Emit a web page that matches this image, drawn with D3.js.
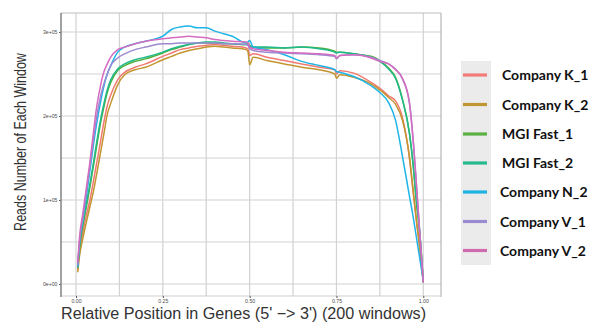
<!DOCTYPE html>
<html><head><meta charset="utf-8">
<script src="https://cdn.jsdelivr.net/npm/d3@7"></script>
<style>body{margin:0;background:#fff}svg{display:block}</style>
</head><body><svg id="c" width="592" height="322"></svg>
<script>
const seriesNames = ["Company K_1","Company K_2","MGI Fast_1","MGI Fast_2","Company N_2","Company V_1","Company V_2"];
const lineColors = ["#f07a72","#c2952f","#55b03a","#1fb98b","#1eb4e6","#9c89d2","#d46cc0"];
const positions = [0.005,0.01,0.02,0.03,0.04,0.05,0.06,0.07,0.08,0.09,0.1,0.12,0.14,0.17,0.2,0.25,0.275,0.3,0.325,0.35,0.375,0.4,0.425,0.45,0.49,0.495,0.5,0.51,0.55,0.6,0.65,0.7,0.745,0.75,0.76,0.8,0.85,0.875,0.9,0.92,0.94,0.96,0.97,0.98,0.99,1.0];
// values in units of 1e5 reads
const companyK1 = [0.17,0.38,0.62,0.82,1.0,1.22,1.45,1.68,1.92,2.12,2.25,2.43,2.52,2.58,2.62,2.71,2.75,2.79,2.81,2.83,2.84,2.85,2.84,2.83,2.81,2.80,2.72,2.74,2.70,2.66,2.62,2.58,2.55,2.50,2.54,2.51,2.40,2.33,2.24,2.18,1.98,1.50,1.12,0.75,0.42,0.02];
const companyK2 = [0.14,0.33,0.55,0.74,0.92,1.10,1.32,1.55,1.78,2.02,2.15,2.37,2.49,2.55,2.58,2.67,2.71,2.75,2.78,2.80,2.82,2.83,2.82,2.81,2.79,2.77,2.61,2.70,2.66,2.62,2.58,2.55,2.50,2.45,2.49,2.46,2.38,2.31,2.22,2.14,1.95,1.52,1.15,0.78,0.42,0.02];
const mgiFast1 = [0.19,0.42,0.70,0.92,1.15,1.40,1.65,1.90,2.10,2.28,2.40,2.54,2.60,2.65,2.68,2.75,2.79,2.82,2.85,2.87,2.87,2.87,2.86,2.86,2.85,2.86,2.84,2.82,2.81,2.81,2.82,2.81,2.77,2.76,2.76,2.74,2.71,2.66,2.57,2.46,2.20,1.80,1.45,0.98,0.60,0.02];
const mgiFast2 = [0.21,0.45,0.73,0.96,1.19,1.44,1.70,1.94,2.14,2.31,2.43,2.56,2.62,2.67,2.70,2.76,2.80,2.83,2.85,2.87,2.88,2.88,2.87,2.86,2.85,2.86,2.83,2.82,2.82,2.81,2.82,2.80,2.76,2.75,2.76,2.74,2.70,2.65,2.56,2.45,2.19,1.80,1.46,1.00,0.60,0.02];
const companyN2 = [0.20,0.48,0.78,1.05,1.35,1.65,1.92,2.15,2.35,2.50,2.60,2.76,2.82,2.86,2.89,2.95,3.03,3.06,3.07,3.05,3.05,3.01,2.98,2.95,2.87,2.88,2.90,2.82,2.79,2.73,2.65,2.60,2.55,2.53,2.52,2.47,2.36,2.28,2.16,1.95,1.52,1.05,0.82,0.56,0.30,0.04];
const companyV1 = [0.22,0.50,0.80,1.10,1.40,1.72,2.00,2.22,2.38,2.50,2.60,2.69,2.74,2.79,2.82,2.86,2.86,2.87,2.87,2.87,2.87,2.87,2.86,2.86,2.85,2.84,2.80,2.78,2.76,2.75,2.74,2.73,2.71,2.68,2.72,2.73,2.70,2.66,2.62,2.56,2.44,2.16,1.76,1.20,0.60,0.02];
const companyV2 = [0.25,0.55,0.85,1.15,1.45,1.80,2.12,2.35,2.52,2.62,2.70,2.79,2.82,2.86,2.89,2.92,2.93,2.94,2.95,2.94,2.93,2.91,2.90,2.89,2.88,2.87,2.82,2.80,2.78,2.76,2.75,2.74,2.72,2.69,2.72,2.73,2.69,2.65,2.62,2.55,2.45,2.16,1.75,1.20,0.60,0.02];
const seriesValues = [companyK1,companyK2,mgiFast1,mgiFast2,companyN2,companyV1,companyV2];
const xTicks = [0,0.25,0.5,0.75,1];
const xTickLabels = ["0.00","0.25","0.50","0.75","1.00"];
const yTicks = [0,1,2,3];
const yTickLabels = ["0e+00","1e+05","2e+05","3e+05"];
const xTitle = "Relative Position in Genes (5' \u2212> 3') (200 windows)";
const yTitle = "Reads Number of Each Window";

const svg = d3.select("#c");
const L = 61, R = 441, T = 13, B = 296;
const x = d3.scaleLinear().domain([-0.0432, 1.0510]).range([L, R]);
const y = d3.scaleLinear().domain([-0.143, 3.226]).range([B, T]);

// gridlines
const g = svg.append("g");
const minorX = [0.125,0.375,0.625,0.875];
const minorY = [0.5,1.5,2.5];
g.selectAll(".gx").data(xTicks.concat(minorX)).enter().append("line")
  .attr("x1", d=>x(d)).attr("x2", d=>x(d)).attr("y1", T).attr("y2", B)
  .attr("stroke", "#d2d2d2").attr("stroke-width", 1.2);
g.selectAll(".gy").data(yTicks.concat(minorY)).enter().append("line")
  .attr("x1", L).attr("x2", R).attr("y1", d=>y(d)).attr("y2", d=>y(d))
  .attr("stroke", "#d2d2d2").attr("stroke-width", 1.2);

// panel border
svg.append("line").attr("x1",L).attr("x2",R).attr("y1",T).attr("y2",T).attr("stroke","#bdbdbd").attr("stroke-width",1);
svg.append("line").attr("x1",R).attr("x2",R).attr("y1",T).attr("y2",B+1).attr("stroke","#a8a8a8").attr("stroke-width",1);
svg.append("line").attr("x1",L).attr("x2",R).attr("y1",B).attr("y2",B).attr("stroke","#cfcfcf").attr("stroke-width",1);

// lines
const line = d3.line().x((d,i)=>x(positions[i])).y(d=>y(d)).curve(d3.curveMonotoneX);
seriesValues.forEach((vals,k)=>{
  svg.append("path").datum(vals).attr("d", line).attr("fill","none")
    .attr("stroke", lineColors[k]).attr("stroke-width", 1.5).attr("stroke-linejoin","round");
});

// axes
const ax = svg.append("g").attr("transform",`translate(0,${B})`)
  .call(d3.axisBottom(x).tickValues(xTicks).tickFormat((d,i)=>xTickLabels[i]).tickSize(2).tickPadding(1.5));
const ay = svg.append("g").attr("transform",`translate(${L},0)`)
  .call(d3.axisLeft(y).tickValues(yTicks).tickFormat((d,i)=>yTickLabels[i]).tickSize(2).tickPadding(1.5));
[ax,ay].forEach(a=>{
  a.select(".domain").remove();
  a.selectAll(".tick line").attr("stroke","#555");
  a.selectAll(".tick text").attr("font-family","Liberation Sans, Arial, sans-serif").attr("font-size",5.2).attr("fill","#4d4d4d");
});
svg.append("line").attr("x1",L).attr("x2",L).attr("y1",T).attr("y2",B+1).attr("stroke","#8a8a8a").attr("stroke-width",1.6);

// titles
svg.append("text").attr("x", 243.5).attr("y", 319).attr("text-anchor","middle")
  .attr("font-family","Liberation Sans, Arial, sans-serif").attr("font-size",16).attr("fill","#333")
  .attr("textLength",365).attr("lengthAdjust","spacingAndGlyphs")
  .text(xTitle);
const yt = svg.append("text").attr("text-anchor","middle")
  .attr("font-family","Liberation Sans, Arial, sans-serif").attr("font-size",17).attr("fill","#333")
  .text(yTitle);
const natW = yt.node().getComputedTextLength();
yt.attr("transform",`translate(25.5,142) rotate(-90) scale(${178/natW},1)`);

// legend
const legendColors = ["#f37b78","#c09535","#5ab042","#25b98d","#1cb3e3","#9a8bd0","#d06aaf"];
const legendY = [75,104.5,134,163,192,221.5,250.5];
const legendX = [502,502,502,502,500,500,500];
svg.append("rect").attr("x",461).attr("y",61).attr("width",30).attr("height",204).attr("fill","#ebebeb");
const lg = svg.append("g");
seriesNames.forEach((n,i)=>{
  lg.append("line").attr("x1",463).attr("x2",487).attr("y1",legendY[i]).attr("y2",legendY[i])
    .attr("stroke",legendColors[i]).attr("stroke-width",3.2);
  lg.append("text").attr("x",legendX[i]).attr("y",legendY[i]+5)
    .attr("font-family","Lato, 'Open Sans', sans-serif").attr("font-weight",700).attr("font-size",14).attr("fill","#111")
    .text(n);
});
</script></body></html>
